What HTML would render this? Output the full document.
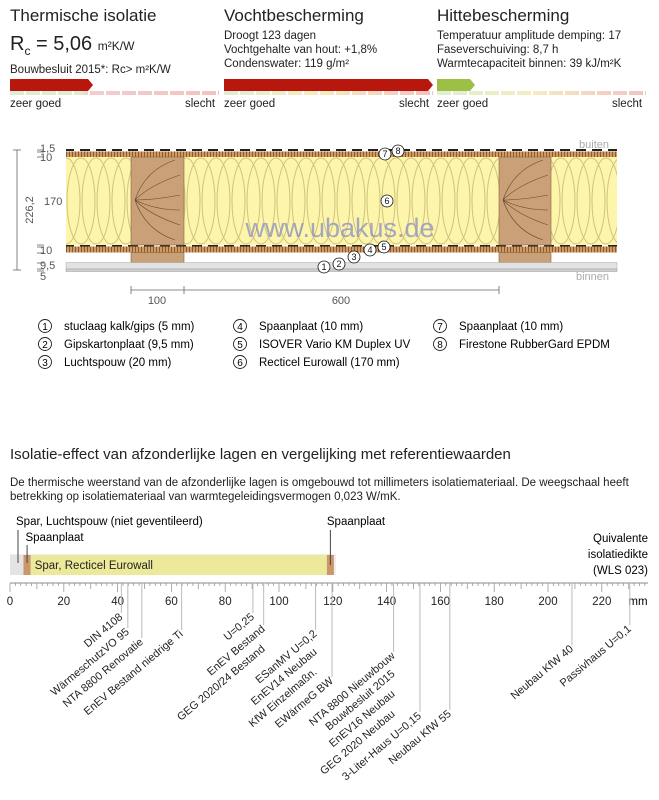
<!DOCTYPE html>
<html><head><meta charset="utf-8">
<style>
body{margin:0;width:659px;height:800px;background:#fff;font-family:"Liberation Sans Narrow","Liberation Sans",sans-serif;color:#222;position:relative;overflow:hidden}
.a{position:absolute;white-space:nowrap}
.h{font-size:17px}
.s{font-size:11.5px;line-height:14px}
.strip{position:absolute;height:4px;top:91px}
.strip:after{content:"";position:absolute;inset:0;background:repeating-linear-gradient(90deg,transparent 0 14px,#fff 14px 16px)}
</style></head><body>
<div class="a h" style="left:10px;top:6px">Thermische isolatie</div>
<div class="a" style="left:10px;top:33px;font-size:20px">R<sub style="font-size:12px">c</sub> = 5,06 <span style="font-size:12px">m²K/W</span></div>
<div class="a s" style="left:10px;top:63px">Bouwbesluit 2015*: Rc&gt; m²K/W</div>
<svg class="a" style="left:0;top:0" width="659" height="92">
<polygon points="10,79 88,79 93,85 88,91 10,91" fill="#b8170e"/>
<polygon points="224,79 428,79 433,85 428,91 224,91" fill="#b8170e"/>
<polygon points="437,79 470,79 475,85 470,91 437,91" fill="#9cbf45"/>
</svg>
<div class="strip" style="left:10px;width:209px;background:linear-gradient(90deg,#dfeed2 0,#dfeed2 33%,#f5cccc 38%,#f3c2c2 100%)"></div>
<div class="strip" style="left:224px;width:209px;background:linear-gradient(90deg,#dfeed2,#f6ecc0 45%,#f3c2c2)"></div>
<div class="strip" style="left:437px;width:209px;background:linear-gradient(90deg,#dfeed2,#f6ecc0 45%,#f3c2c2)"></div>
<div class="a s" style="left:10px;top:97px">zeer goed</div><div class="a s" style="left:185px;top:97px">slecht</div>
<div class="a s" style="left:224px;top:97px">zeer goed</div><div class="a s" style="left:399px;top:97px">slecht</div>
<div class="a s" style="left:437px;top:97px">zeer goed</div><div class="a s" style="left:612px;top:97px">slecht</div>
<div class="a h" style="left:224px;top:6px">Vochtbescherming</div>
<div class="a s" style="left:224px;top:29px">Droogt 123 dagen<br>Vochtgehalte van hout: +1,8%<br>Condenswater: 119 g/m²</div>
<div class="a h" style="left:437px;top:6px">Hittebescherming</div>
<div class="a s" style="left:437px;top:29px">Temperatuur amplitude demping: 17<br>Faseverschuiving: 8,7 h<br>Warmtecapaciteit binnen: 39 kJ/m²K</div>

<svg class="a" style="left:0;top:130px" width="659" height="180" font-family="Liberation Sans Narrow, Liberation Sans, sans-serif">
<defs>
<pattern id="hatch" width="3" height="6" patternUnits="userSpaceOnUse"><rect width="3" height="6" fill="#d29a63"/><rect width="1" height="6" fill="#8a5a30"/></pattern>
<pattern id="wool" x="66" y="27" width="30" height="88" patternUnits="userSpaceOnUse"><rect width="30" height="88" fill="#fdf6aa"/>
<ellipse cx="15" cy="44" rx="14" ry="43" fill="none" stroke="#cfc17f" stroke-width="1"/>
<ellipse cx="0" cy="44" rx="14" ry="43" fill="none" stroke="#cfc17f" stroke-width="1"/>
<ellipse cx="30" cy="44" rx="14" ry="43" fill="none" stroke="#cfc17f" stroke-width="1"/></pattern>
<pattern id="dash" width="16" height="2" patternUnits="userSpaceOnUse"><rect width="10" height="2" fill="#222"/></pattern>
</defs>
<text x="609" y="18" font-size="11" fill="#aaa" text-anchor="end">buiten</text>
<text x="609" y="150" font-size="11" fill="#aaa" text-anchor="end">binnen</text>
<rect x="66" y="19" width="551" height="2" fill="url(#dash)"/>
<rect x="66" y="21.5" width="551" height="5.5" fill="url(#hatch)"/>
<rect x="66" y="27" width="551" height="88" fill="url(#wool)"/>
<rect x="66" y="115" width="551" height="1.5" fill="url(#dash)"/>
<rect x="66" y="116.5" width="551" height="6" fill="url(#hatch)"/>
<g fill="#c9a077" stroke="#8a6540" stroke-width="0.6">
<rect x="131" y="27" width="53" height="88"/>
<rect x="499" y="27" width="52" height="88"/>
<rect x="131" y="122.5" width="53" height="10"/><rect x="499" y="122.5" width="52" height="10"/>
</g>
<g fill="none" stroke="#6b4a2a" stroke-width="0.6">
<path d="M135,70 q10,-30 40,-40 M135,70 q15,-15 45,-25 M135,70 q20,0 45,-5 M135,70 q15,15 45,25 M135,70 q10,30 40,40 M135,70 q20,10 45,10"/>
<path d="M503,70 q10,-30 40,-40 M503,70 q15,-15 45,-25 M503,70 q20,0 45,-5 M503,70 q15,15 45,25 M503,70 q10,30 40,40 M503,70 q20,10 45,10"/>
</g>
<rect x="66" y="132.5" width="551" height="6.5" fill="#e2e2e2" stroke="#aaa" stroke-width="0.5"/>
<rect x="66" y="139" width="551" height="2.5" fill="#d0d0d0" stroke="#999" stroke-width="0.5"/>
<text x="340" y="107" font-size="27" fill="#8f94c4" fill-opacity="0.8" text-anchor="middle" font-family="Liberation Sans, sans-serif">www.ubakus.de</text>
<g stroke="#666" stroke-width="0.8"><line x1="17" y1="20" x2="17" y2="140"/><line x1="13" y1="20" x2="21" y2="20"/><line x1="13" y1="140" x2="21" y2="140"/>
<line x1="37" y1="20" x2="44" y2="20"/><line x1="37" y1="22" x2="44" y2="22"/><line x1="37" y1="27" x2="44" y2="27"/><line x1="37" y1="115" x2="44" y2="115"/><line x1="37" y1="117" x2="44" y2="117"/><line x1="37" y1="123" x2="44" y2="123"/><line x1="37" y1="133" x2="44" y2="133"/><line x1="37" y1="139" x2="44" y2="139"/><line x1="37" y1="141" x2="44" y2="141"/></g>
<g font-size="11" fill="#555"><text x="40" y="22">1,5</text><text x="40" y="31">10</text><text x="44" y="75">170</text><text x="40" y="124">10</text><text x="40" y="139">9,5</text><text x="40" y="150">5</text>
<text transform="translate(33,80) rotate(-90)" text-anchor="middle">226,2</text></g>
<g stroke="#666" stroke-width="0.8"><line x1="131" y1="160" x2="499" y2="160"/><line x1="131" y1="156" x2="131" y2="164"/><line x1="184" y1="156" x2="184" y2="164"/><line x1="499" y1="156" x2="499" y2="164"/></g>
<text x="157" y="174" font-size="11" fill="#555" text-anchor="middle">100</text><text x="341" y="174" font-size="11" fill="#555" text-anchor="middle">600</text>
<g font-size="9" text-anchor="middle" fill="#111" stroke="#111" stroke-width="0.8">
<g><circle cx="385" cy="24" r="6" fill="#fff"/><text x="385" y="27" stroke="none">7</text></g>
<g><circle cx="398" cy="21" r="6" fill="#fff"/><text x="398" y="24" stroke="none">8</text></g>
<g><circle cx="387" cy="71" r="6" fill="#fff"/><text x="387" y="74" stroke="none">6</text></g>
<g><circle cx="370" cy="120" r="6" fill="#fff"/><text x="370" y="123" stroke="none">4</text></g>
<g><circle cx="384" cy="117" r="6" fill="#fff"/><text x="384" y="120" stroke="none">5</text></g>
<g><circle cx="354" cy="127" r="6" fill="#fff"/><text x="354" y="130" stroke="none">3</text></g>
<g><circle cx="339" cy="134" r="6" fill="#fff"/><text x="339" y="137" stroke="none">2</text></g>
<g><circle cx="324" cy="137" r="6" fill="#fff"/><text x="324" y="140" stroke="none">1</text></g>
</g>
</svg>

<svg class="a" style="left:0;top:310px" width="659" height="60" font-family="Liberation Sans Narrow, Liberation Sans, sans-serif" font-size="11.5">
<g id="leg"></g>
</svg>

<div class="a" style="left:10px;top:446px;font-size:15px">Isolatie-effect van afzonderlijke lagen en vergelijking met referentiewaarden</div>
<div class="a s" style="left:10px;top:476px">De thermische weerstand van de afzonderlijke lagen is omgebouwd tot millimeters isolatiemateriaal. De weegschaal heeft<br>betrekking op isolatiemateriaal van warmtegeleidingsvermogen 0,023 W/mK.</div>

<svg id="scale" class="a" style="left:0;top:0" width="659" height="800" font-family="Liberation Sans Narrow, Liberation Sans, sans-serif"></svg>

<script>
const legendNums=["1","2","3","4","5","6","7","8"];
const legendTexts=["stuclaag kalk/gips (5 mm)","Gipskartonplaat (9,5 mm)","Luchtspouw (20 mm)","Spaanplaat (10 mm)","ISOVER Vario KM Duplex UV","Recticel Eurowall (170 mm)","Spaanplaat (10 mm)","Firestone RubberGard EPDM"];
const layerNames=["Spar, Luchtspouw (niet geventileerd)","Spaanplaat","Spar, Recticel Eurowall","Spaanplaat"];
const layerStart=[0,5,7.7,117.8];
const layerEnd=[5,7.7,117.8,120.4];
const tickLabels=[0,20,40,60,80,100,120,140,160,180,200,220];
const refNames=["DIN 4108","WärmeschutzVO 95","NTA 8800 Renovatie","EnEV Bestand niedrige Ti","U=0,25","EnEV Bestand","GEG 2020/24 Bestand","ESanMV U=0,2","EnEV14 Neubau","KfW Einzelmaßn.","EWärmeG BW","NTA 8800 Nieuwbouw","Bouwbesluit 2015","EnEV16 Neubau","GEG 2020 Neubau","3-Liter-Haus U=0,15","Neubau KfW 55","Neubau KfW 40","Passivhaus U=0,1"];
const refValues=[41.4,43.8,49,63.8,90.3,94.3,94.3,113.6,113.6,113.6,119.7,142.6,142.6,142.6,142.6,152.4,163.5,208.9,230.4];
const refLabelY=[618,633,643,635,618,630,650,635,653,673,682,657,675,695,715,717,715,650,630];

const NS="http://www.w3.org/2000/svg";
function mk(p,t,a){const e=document.createElementNS(NS,t);for(const k in a)e.setAttribute(k,a[k]);p.appendChild(e);return e;}
const leg=document.getElementById('leg');
legendNums.forEach((n,i)=>{
  const col=Math.floor(i/3),row=i%3;
  const cx=[45,240,440][col],y=16+row*18;
  const g=mk(leg,'g',{});
  
  
  mk(g,'circle',{cx:cx,cy:y,r:6.5,fill:'#fff',stroke:'#222','stroke-width':0.9});
  const t1=mk(g,'text',{x:cx,y:y+4,'text-anchor':'middle','font-size':10});t1.textContent=n;
  const t2=mk(g,'text',{x:cx+19,y:y+4});t2.textContent=legendTexts[i];
});

const svg=document.getElementById('scale');
const X0=10,K=2.69,AXY=583;
const xs=v=>X0+v*K;
mk(svg,'rect',{x:xs(0),y:554,width:xs(120.4)-xs(0)+2,height:21,fill:'#eeeeee'});
const layerFill=['#e4e4e4','#c9976a','#ecea9a','#c9976a'];
layerNames.forEach((n,i)=>{
  const r=mk(svg,'rect',{x:xs(layerStart[i]),y:555,width:xs(layerEnd[i])-xs(layerStart[i]),height:20,fill:layerFill[i]});
  
  
});
const bt=mk(svg,'text',{x:xs(layerStart[2])+4,y:569,'font-size':11.5,fill:'#222'});bt.textContent=layerNames[2];
const l0=mk(svg,'text',{x:xs(layerStart[0])+6,y:525,'font-size':11.5});l0.textContent=layerNames[0];
mk(svg,'line',{x1:xs(layerStart[0])+8,y1:530,x2:xs(layerStart[0])+8,y2:563,stroke:'#444'});
const l1=mk(svg,'text',{x:xs(layerStart[1])+2,y:541,'font-size':11.5});l1.textContent=layerNames[1];
mk(svg,'line',{x1:(xs(layerStart[1])+xs(layerEnd[1]))/2,y1:545,x2:(xs(layerStart[1])+xs(layerEnd[1]))/2,y2:563,stroke:'#444'});
const l3=mk(svg,'text',{x:xs(layerStart[3]),y:525,'font-size':11.5});l3.textContent=layerNames[3];
mk(svg,'line',{x1:(xs(layerStart[3])+xs(layerEnd[3]))/2,y1:530,x2:(xs(layerStart[3])+xs(layerEnd[3]))/2,y2:565,stroke:'#444'});
["Quivalente","isolatiedikte","(WLS 023)"].forEach((s,i)=>{const t=mk(svg,'text',{x:648,y:542+i*16,'font-size':11.5,'text-anchor':'end'});t.textContent=s;});
mk(svg,'line',{x1:xs(0),y1:AXY,x2:648,y2:AXY,stroke:'#888'});
for(let v=0;v<=236;v+=2){
  const h=v%20===0?9:(v%10===0?6:3);
  mk(svg,'line',{x1:xs(v),y1:AXY,x2:xs(v),y2:AXY+h,stroke:'#999','stroke-width':0.8});
}
tickLabels.forEach(v=>{const t=mk(svg,'text',{x:xs(v),y:605,'font-size':11.5,'text-anchor':'middle',fill:'#222'});t.textContent=v;
  
  });
const mm=mk(svg,'text',{x:638,y:605,'font-size':11.5,'text-anchor':'middle'});mm.textContent='mm';
const seen={};
refNames.forEach((n,i)=>{
  const x=xs(refValues[i]);
  if(!seen[refValues[i]]){seen[refValues[i]]=1;
    const ln=mk(svg,'line',{x1:x,y1:AXY,x2:x,y2:refLabelY[i]-5,stroke:'#bbb','stroke-width':1});
    
    }
  const t=mk(svg,'text',{x:0,y:0,'font-size':11,'text-anchor':'end',fill:'#222',transform:`translate(${x+2},${refLabelY[i]}) rotate(-40)`});
  t.textContent=n;
  
  
});
</script>
</body></html>
